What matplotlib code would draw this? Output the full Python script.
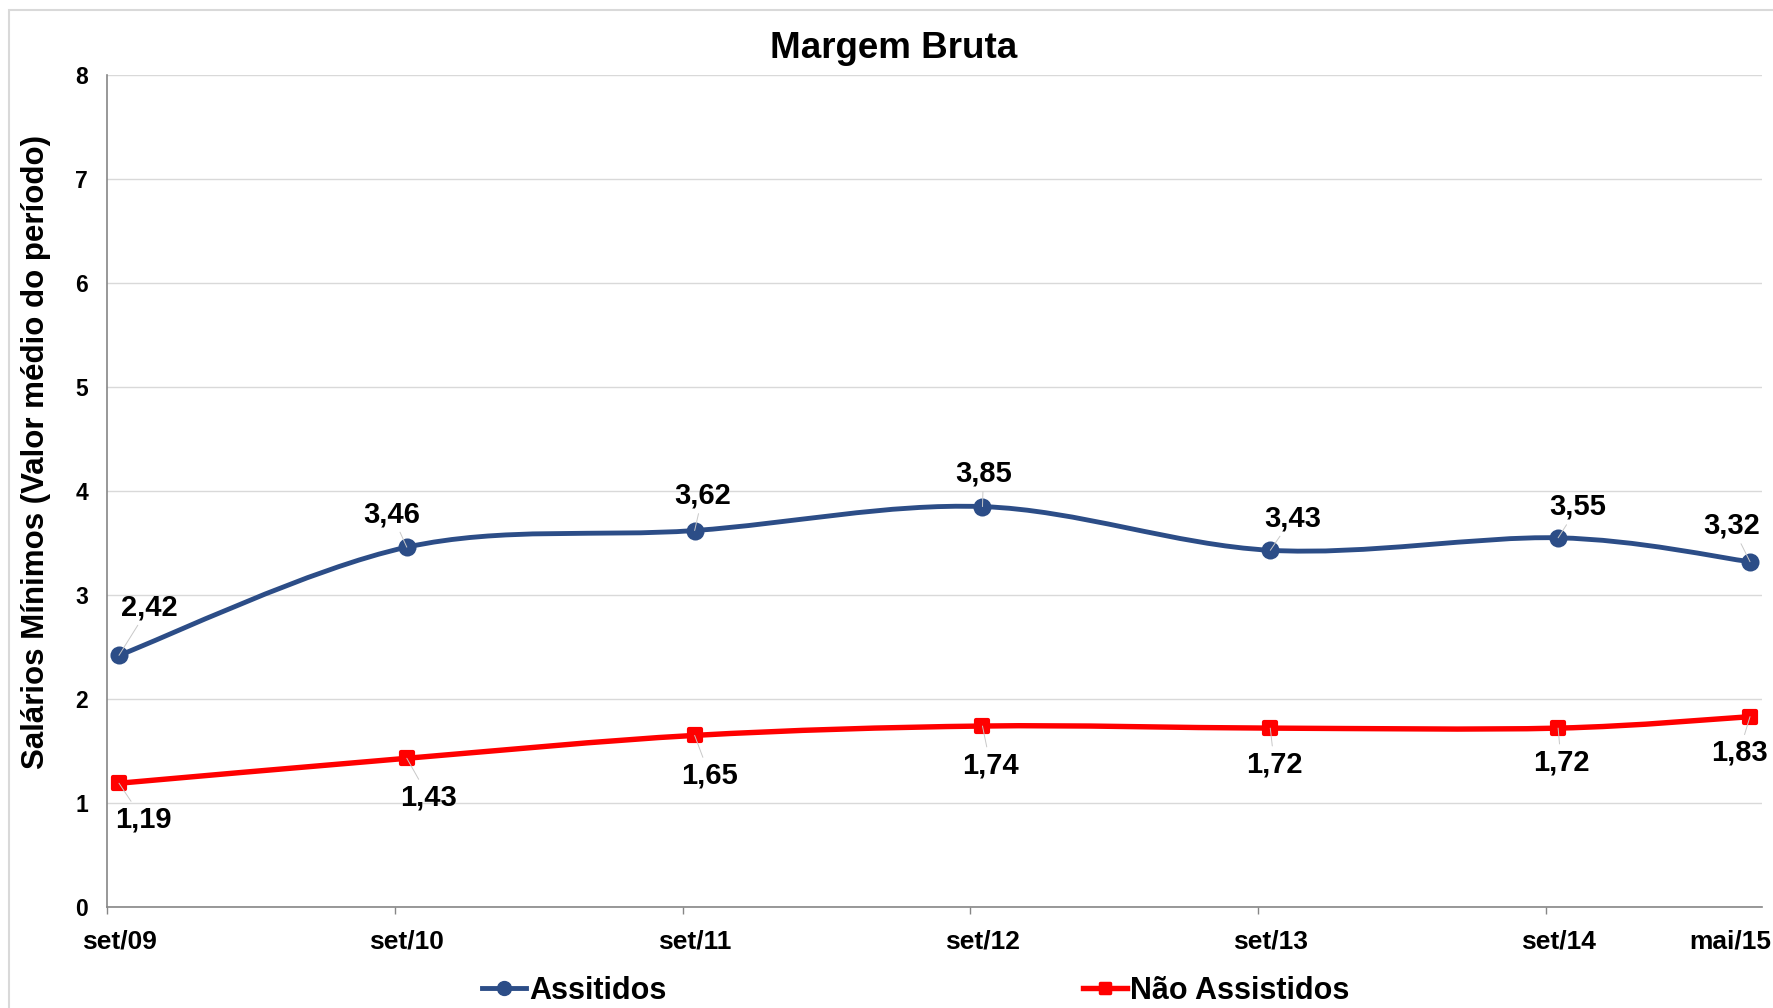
import matplotlib
matplotlib.use("Agg")
import matplotlib.pyplot as plt
from matplotlib.path import Path
from matplotlib.patches import PathPatch, Rectangle
from matplotlib.lines import Line2D
from matplotlib.markers import MarkerStyle
from matplotlib.transforms import ScaledTranslation

# dados
periodos = ["set/09", "set/10", "set/11", "set/12", "set/13", "set/14", "mai/15"]
meses = [0, 12, 24, 36, 48, 60, 68]  # meses contados a partir de set/09
assistidos = [2.42, 3.46, 3.62, 3.85, 3.43, 3.55, 3.32]
nao_assistidos = [1.19, 1.43, 1.65, 1.74, 1.72, 1.72, 1.83]

# deslocamento dos rótulos (pixels) em relação a cada ponto
desl_assistidos = [(30, 40), (-15, 25), (8, 27), (1, 25), (22, 24), (20, 23), (-18, 28)]
desl_nao = [(24, -44), (22, -47), (15, -48), (8, -47), (4, -44), (3, -42), (-11, -44)]

AZUL = "#2C4D87"
VERMELHO = "#FF0000"
CINZA = "#868686"

plt.rcParams["font.family"] = ["Liberation Sans", "DejaVu Sans"]
plt.rcParams["font.weight"] = "bold"


def curva_suave(xs, ys):
    """Bezier no estilo da 'linha suavizada' do Excel."""
    pts = list(zip(xs, ys))
    n = len(pts)
    verts = [pts[0]]
    codes = [Path.MOVETO]
    for i in range(n - 1):
        p0 = pts[i - 1] if i > 0 else pts[i]
        p1 = pts[i]
        p2 = pts[i + 1]
        p3 = pts[i + 2] if i + 2 < n else pts[i + 1]
        c1 = (p1[0] + (p2[0] - p0[0]) / 6, p1[1] + (p2[1] - p0[1]) / 6)
        c2 = (p2[0] - (p3[0] - p1[0]) / 6, p2[1] - (p3[1] - p1[1]) / 6)
        verts += [c1, c2, p2]
        codes += [Path.CURVE4] * 3
    return Path(verts, codes)


def rotulo(v):
    return f"{v:.2f}".replace(".", ",")


W, H = 1773, 1008
fig = plt.figure(figsize=(W / 100, H / 100), dpi=100)
ax = fig.add_axes([107 / W, 1 - 907 / H, (1762 - 107) / W, (907 - 75) / H])

quadrado = MarkerStyle("s", joinstyle="round")
series = [
    (assistidos, AZUL, 3.5, "o", 13, 0, desl_assistidos),
    (nao_assistidos, VERMELHO, 3.9, quadrado, 9, 3, desl_nao),
]
for ys, cor, lw, marc, ms, mew, desl in series:
    ax.add_patch(PathPatch(curva_suave(meses, ys), fill=False, edgecolor=cor,
                           lw=lw, capstyle="round", joinstyle="round", zorder=3))
    ax.plot(meses, ys, ls="none", marker=marc, ms=ms, color=cor, mec=cor,
            mew=mew, zorder=4)
    for x, y, (dx, dy) in zip(meses, ys, desl):
        ax.annotate(rotulo(y), xy=(x, y), xytext=(dx, dy), textcoords="offset pixels",
                    ha="center", va="baseline", fontsize=21, fontweight="bold",
                    zorder=5,
                    arrowprops=dict(arrowstyle="-", color="#C8C8C8", lw=0.7,
                                    shrinkA=1, shrinkB=0))

# eixos
ax.set_xlim(meses[0] - 0.5, meses[-1] + 0.5)
ax.set_ylim(0, 8)
ax.set_yticks(range(9))
ax.set_xticks([m - 0.5 for m in meses[:-1]])
ax.set_xticks(meses, periodos, minor=True)
ax.tick_params(axis="x", which="major", length=5, width=1, color=CINZA,
               labelbottom=False)
ax.tick_params(axis="x", which="minor", length=0, pad=16, labelsize=19)
ax.tick_params(axis="y", length=0, pad=13.5, labelsize=16.5)
ax.yaxis.grid(True, color="#D9D9D9", lw=1)
ax.set_axisbelow(True)
for lado in ["top", "right"]:
    ax.spines[lado].set_visible(False)
for lado in ["left", "bottom"]:
    ax.spines[lado].set_color(CINZA)
    ax.spines[lado].set_linewidth(1.2)

# último rótulo (mai/15) puxado para dentro
ultimo = ax.xaxis.get_minor_ticks()[-1].label1
ultimo.set_transform(ultimo.get_transform() + ScaledTranslation(-0.2, 0, fig.dpi_scale_trans))

fig.text(894 / W, 1 - 58 / H, "Margem Bruta", ha="center", va="baseline",
         fontsize=26.5, fontweight="bold")
fig.text(36.5 / W, 1 - 452 / H, "Salários Mínimos (Valor médio do período)",
         rotation=90, ha="center", va="center", fontsize=22.5, fontweight="bold")

# legendas
h1 = Line2D([], [], color=AZUL, lw=3.5, marker="o", ms=10)
h2 = Line2D([], [], color=VERMELHO, lw=3.9, marker=quadrado, ms=7, mew=2.5)
for h, nome, x0 in [(h1, "Assitidos", 482), (h2, "Não Assistidos", 1083)]:
    fig.legend(handles=[h], labels=[nome], loc="center left",
               bbox_to_anchor=(x0 / W, 1 - 991 / H), frameon=False, fontsize=22,
               handlelength=1.45, handletextpad=0.1, borderpad=0, borderaxespad=0)

# borda do gráfico
fig.add_artist(Rectangle((9 / W, -0.5), 2, 1.5 - 10 / H, transform=fig.transFigure,
                         fill=False, edgecolor="#D9D9D9", lw=1.5))

fig.savefig("out.png", dpi=100)
